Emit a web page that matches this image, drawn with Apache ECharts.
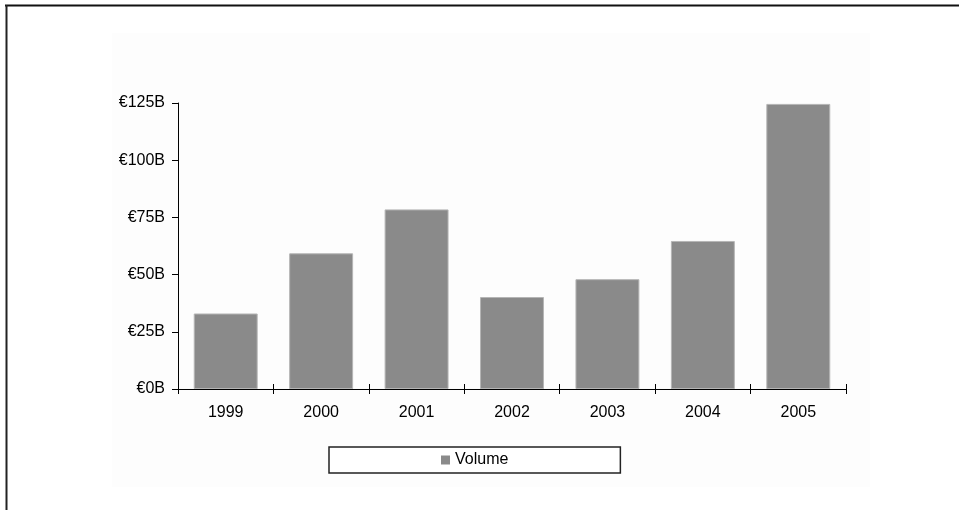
<!DOCTYPE html>
<html>
<head>
<meta charset="utf-8">
<script src="https://cdn.jsdelivr.net/npm/echarts@6/dist/echarts.min.js"></script>
<style>
  html, body { margin: 0; padding: 0; background: #ffffff; }
  #chart { width: 959px; height: 510px; }
</style>
</head>
<body>
<div id="chart"></div>
<script>
// Yearly volume, in billions of euros
const years = ['1999', '2000', '2001', '2002', '2003', '2004', '2005'];
const volume = [33, 59.3, 78.5, 40.2, 48, 64.7, 124.6];
const seriesName = 'Volume';
const yMin = 0;
const yMax = 125;
const yStep = 25;

const FONT = '"Liberation Sans", Arial, sans-serif';
const GRID_TOP = 103;
const GRID_BOTTOM = 121;
const CHART_H = 510;
const plotHeight = CHART_H - GRID_TOP - GRID_BOTTOM;

const chart = echarts.init(document.getElementById('chart'), null, { renderer: 'canvas' });

chart.setOption({
  animation: false,
  backgroundColor: '#ffffff',
  textStyle: { fontFamily: FONT },
  graphic: [
    // faint panel behind the plot
    { type: 'rect', z: -10, shape: { x: 112, y: 33, width: 758, height: 454 },
      style: { fill: '#fdfdfd' } },
    // frame lines on top and left
    { type: 'line', shape: { x1: 5, y1: 5.5, x2: 959, y2: 5.5 },
      style: { stroke: '#111', lineWidth: 2 } },
    { type: 'line', shape: { x1: 6.5, y1: 5, x2: 6.5, y2: 510 },
      style: { stroke: '#222', lineWidth: 2 } }
  ],
  grid: { left: 178, right: 113, top: GRID_TOP, bottom: GRID_BOTTOM, containLabel: false },
  legend: {
    data: [seriesName],
    left: 329,
    top: 447,
    orient: 'horizontal',
    padding: [5, 112, 5, 112],
    borderColor: '#222',
    borderWidth: 1.5,
    backgroundColor: '#ffffff',
    itemWidth: 9,
    itemHeight: 9,
    itemGap: 5,
    icon: 'rect',
    itemStyle: { borderWidth: 0 },
    textStyle: { fontFamily: FONT, fontSize: 16, color: '#000', padding: [0, 0, 0, 0] }
  },
  xAxis: [
    {
      type: 'category',
      data: years,
      position: 'bottom',
      axisLine: { lineStyle: { color: '#000', width: 1 } },
      axisTick: { show: true, length: 5, lineStyle: { color: '#000' } },
      axisLabel: { color: '#000', fontFamily: FONT, fontSize: 16, margin: 16 },
      splitLine: { show: false },
      z: 5
    },
    {
      // upper half of the crossing tick marks: a top-positioned axis
      // shifted down onto the baseline, its ticks pointing upward
      type: 'category',
      data: years,
      position: 'top',
      offset: -plotHeight,
      axisLine: { show: true, onZero: false, lineStyle: { color: '#000', width: 1 } },
      axisTick: { show: true, inside: false, length: 5, lineStyle: { color: '#000' } },
      axisLabel: { show: false },
      splitLine: { show: false },
      z: 5
    }
  ],
  yAxis: {
    type: 'value',
    min: yMin,
    max: yMax,
    interval: yStep,
    axisLine: { show: true, lineStyle: { color: '#000', width: 1 } },
    axisTick: { show: true, length: 6, lineStyle: { color: '#000' } },
    axisLabel: {
      color: '#000', fontFamily: FONT, fontSize: 16, margin: 13,
      formatter: v => '€' + v + 'B'
    },
    splitLine: { show: false }
  },
  series: [
    {
      name: seriesName,
      type: 'bar',
      xAxisIndex: 0,
      data: volume,
      barCategoryGap: '33%',
      itemStyle: { color: '#8a8a8a', borderColor: '#b5b5b5', borderWidth: 1 }
    }
  ]
});
</script>
</body>
</html>
